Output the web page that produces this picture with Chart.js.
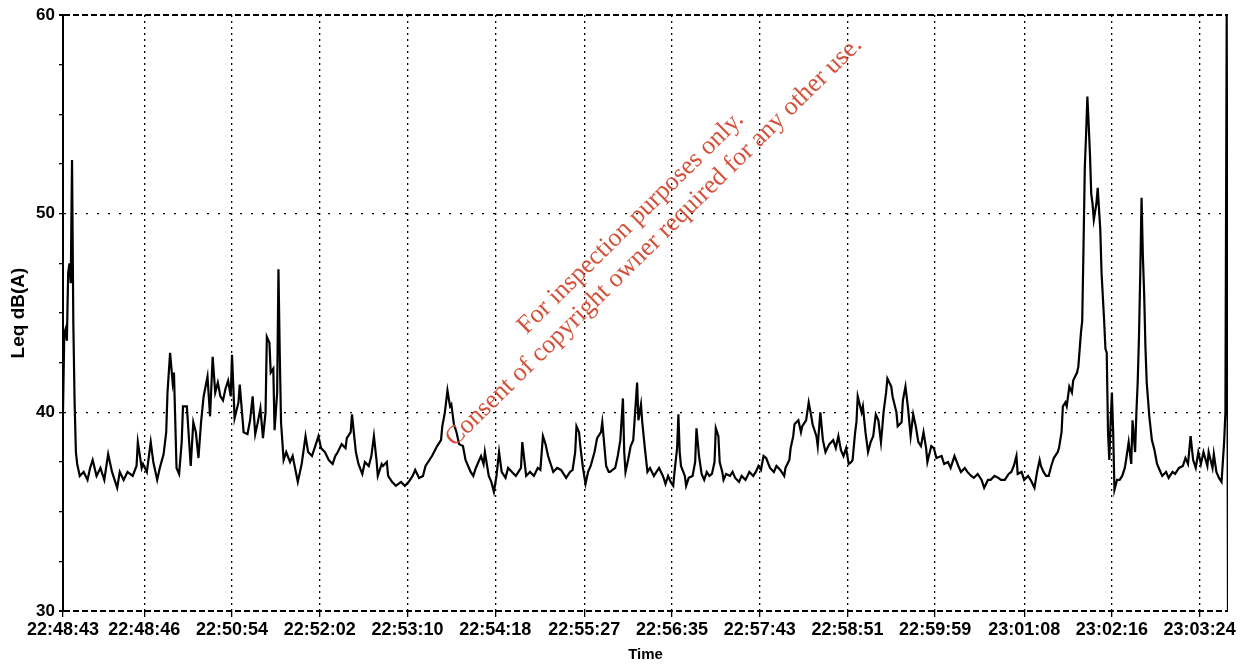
<!DOCTYPE html>
<html><head><meta charset="utf-8">
<script src="https://cdn.jsdelivr.net/npm/chart.js@4.4.0/dist/chart.umd.min.js"></script>
<style>
html,body{margin:0;padding:0;background:#fff;}
#wrap{position:relative;width:1242px;height:664px;overflow:hidden;}
.wm{position:absolute;color:#d4513a;font-family:"Liberation Serif","Times New Roman",serif;font-size:26px;white-space:nowrap;transform:translate(-50%,-50%) rotate(-44.5deg);pointer-events:none;}
</style></head><body>
<div id="wrap"><canvas id="c" width="1242" height="664"></canvas>
<div class="wm" style="left:630px;top:222px">For inspection purposes only.</div>
<div class="wm" style="left:653px;top:241px">Consent of copyright owner required for any other use.</div>
</div>
<script>
// seconds elapsed since 22:48:43
const times=[0,1,2,3,4,5,6,7,8,9,10,11,13,16,19,21,23,26,29,32,35,38,42,44,47,50,54,57,58,61,62,65,68,70,73,75,78,80,81,83,85,86,88,90,92,93,96,99,101,103,105,107,109,112,114,116,118,120,122,124,126,128,130,131,133,136,137,140,143,145,147,149,151,153,155,157,158,160,161,163,164,166,167,168,169,171,173,176,178,182,185,188,190,193,196,198,200,203,206,209,211,213,216,219,220,223,224,227,229,232,234,237,239,241,243,244,247,248,251,252,255,258,262,265,268,271,273,276,279,281,283,286,290,293,294,296,298,300,301,303,305,307,310,312,314,316,318,320,324,326,327,330,332,334,336,338,340,343,345,348,351,355,356,359,362,365,368,370,372,374,376,378,380,383,386,388,390,393,395,397,398,400,401,403,405,407,409,412,414,417,418,421,423,424,428,430,432,434,435,436,438,440,442,445,446,448,449,451,453,455,458,460,462,465,467,469,471,473,474,476,477,478,479,482,483,485,488,490,491,492,493,495,497,499,501,503,505,506,508,509,511,512,514,517,519,521,524,526,529,532,535,537,539,541,543,545,548,551,553,556,559,560,563,564,566,567,570,572,573,576,578,580,581,584,585,587,589,591,594,597,599,601,603,605,607,609,611,612,614,615,616,619,620,622,624,626,628,630,632,634,635,636,638,639,642,643,646,647,650,651,653,655,657,659,661,663,665,667,669,670,673,675,677,681,683,686,688,691,694,696,699,701,704,706,709,712,714,717,719,722,725,727,730,733,735,737,739,740,743,745,748,750,753,755,757,758,760,762,764,766,768,771,772,774,775,777,778,780,782,783,786,787,789,790,791,792,793,794,795,796,797,798,799,801,802,804,805,807,808,809,810,811,812,813,814,815,817,819,821,823,824,826,828,829,831,832,833,834,835,836,837,838,839,840,842,844,846,848,850,852,855,857,860,862,865,868,870,872,874,876,878,880,882,884,887,888,891,892,894,896,898,899,900,901,902,903];
const leq=[40.0,44.0,44.2,43.6,47.0,47.5,46.5,52.7,44.5,40.5,38.0,37.4,36.8,37.0,36.6,37.2,37.6,36.8,37.2,36.6,37.9,37.0,36.2,37.0,36.6,37.0,36.8,37.3,38.5,37.2,37.4,37.0,38.5,37.5,36.6,37.2,37.9,39.0,41.0,43.0,41.5,42.0,37.2,36.9,38.5,40.3,40.3,37.3,39.5,39.0,37.7,39.5,40.8,41.8,39.8,42.8,41.0,41.5,40.8,40.6,41.2,41.6,40.8,42.9,39.7,40.5,41.4,39.0,38.9,39.6,40.8,38.9,39.5,40.2,38.7,40.0,43.8,43.5,42.0,42.2,39.1,41.0,47.2,43.0,39.5,37.6,38.0,37.5,37.8,36.5,37.4,38.8,38.0,37.8,38.4,38.8,38.2,38.0,37.6,37.4,37.8,38.0,38.4,38.2,38.7,39.0,39.9,38.0,37.4,36.9,37.5,37.3,37.8,38.8,37.6,36.8,37.4,37.3,37.5,36.8,36.5,36.3,36.5,36.3,36.5,36.8,37.1,36.7,36.8,37.3,37.5,37.8,38.3,38.6,39.3,40.0,41.1,40.3,40.4,39.4,39.0,38.4,38.3,37.6,37.3,37.0,36.8,37.2,37.8,37.4,38.0,36.8,36.5,36.0,36.8,38.0,37.0,36.7,37.2,37.0,36.8,37.2,38.5,36.8,37.0,36.8,37.2,37.1,38.8,38.4,37.8,37.4,37.0,37.2,37.1,36.9,36.7,37.0,37.1,38.0,39.3,39.0,38.3,37.2,36.4,37.0,37.3,38.0,38.7,39.0,39.5,37.3,37.0,37.0,37.2,37.8,38.6,40.7,38.0,37.0,37.6,38.3,38.6,41.5,39.6,40.4,39.5,38.2,37.0,37.2,36.8,37.0,37.2,36.8,36.4,36.8,36.5,36.3,37.0,38.2,39.9,38.0,37.3,36.8,36.3,36.7,36.8,37.5,39.2,38.5,37.8,36.9,36.6,37.0,36.8,36.9,37.5,39.2,38.8,37.5,37.0,36.6,36.9,36.8,37.0,36.7,36.5,36.8,36.6,37.0,36.8,37.0,37.3,37.1,37.8,37.7,37.2,37.0,37.3,37.1,36.8,37.2,37.6,38.2,38.8,39.4,39.6,39.0,39.3,39.6,40.5,39.8,39.4,38.8,38.3,40.0,38.6,38.0,38.4,38.6,38.2,38.8,38.1,37.8,38.2,37.4,37.5,37.6,39.0,39.5,40.8,40.0,40.3,39.0,38.0,38.5,38.8,39.9,39.6,38.5,39.2,40.0,41.0,41.7,41.3,40.8,40.0,39.3,39.5,40.6,41.3,40.2,38.8,39.9,39.3,38.5,38.3,39.0,38.2,37.5,38.3,38.2,37.7,37.8,37.4,37.5,37.2,37.8,37.3,37.0,37.2,37.0,36.8,36.7,36.9,36.6,36.2,36.6,36.6,36.8,36.7,36.6,36.6,36.9,37.0,37.3,37.8,36.9,37.0,36.6,36.8,36.6,36.2,37.0,37.6,37.3,37.0,36.8,36.8,37.3,37.7,38.0,38.2,39.0,40.3,40.5,40.3,41.3,41.0,41.6,42.0,42.3,44.0,44.6,48.3,52.3,54.0,55.9,54.5,53.0,51.0,50.5,49.7,50.5,51.3,49.2,47.0,44.6,43.2,43.0,39.0,37.6,39.5,41.0,39.0,36.1,36.6,36.6,36.8,37.2,37.6,38.5,37.4,39.6,38.0,40.0,41.5,43.8,47.0,50.8,47.9,46.0,43.3,41.5,39.8,38.6,38.1,37.4,37.1,36.8,37.0,36.7,37.0,36.9,37.2,37.3,37.7,37.4,38.8,37.6,37.2,38.0,37.4,38.0,37.3,38.0,37.2,37.9,37.0,36.7,36.5,37.5,38.5,40.0,60.0,30.0];
const tickSeconds=[0,63,131,199,267,335,404,472,540,608,676,745,813,881];
const tickLabels=["22:48:43","22:48:46","22:50:54","22:52:02","22:53:10","22:54:18","22:55:27","22:56:35","22:57:43","22:58:51","22:59:59","23:01:08","23:02:16","23:03:24"];
const yTicks=[30,32.5,35,37.5,40,42.5,45,47.5,50,52.5,55,57.5,60];
const yLabelled=[30,40,50,60];

const F='"Liberation Sans", Arial, sans-serif';
new Chart(document.getElementById('c').getContext('2d'),{
  type:'line',
  data:{datasets:[{data:times.map((t,i)=>({x:t,y:leq[i]})),borderColor:'#000',borderWidth:2.2,pointRadius:0,tension:0,fill:false}]},
  options:{
    responsive:false,animation:false,devicePixelRatio:1,
    layout:{padding:{top:15,right:14,left:0,bottom:0}},
    plugins:{legend:{display:false},tooltip:{enabled:false}},
    scales:{
      x:{type:'linear',min:0,max:903,
        afterBuildTicks:s=>{s.ticks=tickSeconds.map(v=>({value:v}));},
        afterFit:s=>{s.height=53;},
        ticks:{autoSkip:false,maxRotation:0,minRotation:0,padding:2,color:'#000',
          font:{family:F,size:18,weight:'bold'},
          callback:v=>{const i=tickSeconds.indexOf(v);return i>=0?tickLabels[i]:'';}},
        grid:{color:'#000',lineWidth:1.3,tickLength:6,tickColor:'#000'},
        border:{display:false,dash:[2,4]},
        title:{display:true,text:'Time',color:'#000',font:{family:F,size:15,weight:'bold'},padding:{top:0,bottom:0}}
      },
      y:{min:30,max:60,
        afterBuildTicks:s=>{s.ticks=yTicks.map(v=>({value:v}));},
        afterFit:s=>{s.width=63;},
        ticks:{padding:4,color:'#000',font:{family:F,size:17,weight:'bold'},
          callback:v=>yLabelled.includes(v)?String(v):''},
        grid:{
          color:c=>(c.tick&&yLabelled.includes(c.tick.value))?'#000':'rgba(0,0,0,0)',
          lineWidth:c=>(c.tick&&(c.tick.value===30||c.tick.value===60))?2:1.3,
          tickLength:4,tickColor:'#000'},
        border:{display:true,color:'#000',width:2,
          dash:c=>(c.tick&&(c.tick.value===30||c.tick.value===60))?[6,3]:[2,9]},
        title:{display:true,text:'Leq dB(A)',color:'#000',font:{family:F,size:19,weight:'bold'},padding:{top:7,bottom:0}}
      }
    }
  }
});
</script>
</body></html>
